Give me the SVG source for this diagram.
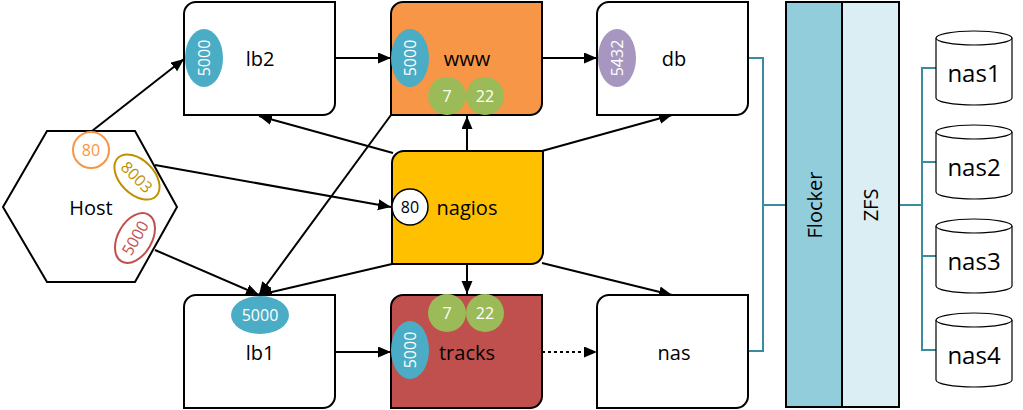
<svg xmlns="http://www.w3.org/2000/svg" xmlns:xlink="http://www.w3.org/1999/xlink" width="1023" height="410" viewBox="0 0 1023 410">
<style>
.node{stroke:#000;stroke-width:2}
.lbl{font-family:"Open Sans","Liberation Sans",sans-serif;font-size:20px;fill:#000;text-anchor:middle;dominant-baseline:central}
.port{font-family:"Open Sans","Liberation Sans",sans-serif;font-size:16px;fill:#fff;text-anchor:middle;dominant-baseline:central}
.blue{fill:#4BACC6}
.green{fill:#9BBB59}
.edge{stroke:#000;stroke-width:2;fill:none;marker-end:url(#arr)}
.teal{stroke:#3A8C9E;stroke-width:2;fill:none}
.cyl{fill:#fff;stroke:#000;stroke-width:1.2}
.big{font-family:"Open Sans","Liberation Sans",sans-serif;font-size:24px;fill:#000;text-anchor:middle;dominant-baseline:central}
</style>
<defs>
<marker id="arr" markerUnits="userSpaceOnUse" markerWidth="14" markerHeight="12" refX="13" refY="5.5" orient="auto">
<path d="M0,0 L13,5.5 L0,11 Z" fill="#000"/>
</marker>
<path id="box" d="M0,12 A12,12 0 0 1 12,0 H151 V101 A12,12 0 0 1 139,113 H0 Z"/>
<g id="cyl">
<path class="cyl" d="M0,7 V67 A38,7 0 0 0 76,67 V7"/>
<ellipse class="cyl" cx="38" cy="7" rx="38" ry="7"/>
</g>
</defs>
<rect width="1023" height="410" fill="#fff"/>

<g id="connectors">
<path class="edge" d="M92,131 L184,59"/>
<path class="edge" d="M335,58 L391,58"/>
<path class="edge" d="M542,58 L597,58"/>
<path class="edge" d="M467,151 L467,116"/>
<path class="edge" d="M467,263 L467,294"/>
<path class="edge" d="M393,153 L259,116"/>
<path class="edge" d="M542,151 L672,115"/>
<path class="edge" d="M542,263 L672,295"/>
<path class="edge" d="M392,264 L259,295"/>
<path class="edge" d="M391,115 L259,295"/>
<path class="edge" d="M155,165 L391,207"/>
<path class="edge" d="M155,250 L259,295"/>
<path class="edge" d="M335,352 L391,352"/>
<path class="edge" d="M542,352 L597,352" stroke-dasharray="3 3"/>
<path class="teal" d="M748,58 H763 V351 H748 M763,205 H786"/>
<path class="teal" d="M899,205 H922 M936,68 H922 V350 H936 M922,162 H936 M922,256 H936"/>
</g>

<g id="host">
<polygon points="3,207 47,131 135,131 177,207 135,282 47,282" fill="#fff" stroke="#000" stroke-width="2"/>
<text class="lbl" x="91" y="207">Host</text>
<circle cx="91" cy="150" r="18" fill="#fff" stroke="#F79646" stroke-width="2"/>
<text class="port" x="91" y="150" style="fill:#F79646">80</text>
<g transform="translate(137,177) rotate(45)">
<ellipse rx="27" ry="17" fill="#fff" stroke="#BF9000" stroke-width="2"/>
<text class="port" x="0" y="0" style="fill:#BF9000">8003</text>
</g>
<g transform="translate(135,238) rotate(-60)">
<ellipse rx="27" ry="17" fill="#fff" stroke="#C0504D" stroke-width="2"/>
<text class="port" x="0" y="0" style="fill:#C0504D">5000</text>
</g>
</g>

<g id="lb2">
<use xlink:href="#box" x="184" y="2" class="node" style="fill:#fff"/>
<text class="lbl" x="260" y="58">lb2</text>
<ellipse class="blue" cx="204" cy="58" rx="19" ry="29"/>
<text class="port" transform="translate(204,58) rotate(-90)">5000</text>
</g>

<g id="www">
<use xlink:href="#box" x="391" y="2" class="node" style="fill:#F79646"/>
<text class="lbl" x="467" y="58">www</text>
<ellipse class="blue" cx="410" cy="58" rx="19" ry="29"/>
<text class="port" transform="translate(410,58) rotate(-90)">5000</text>
<circle class="green" cx="447" cy="96" r="19"/>
<circle class="green" cx="485" cy="96" r="19"/>
<text class="port" x="447" y="96">7</text>
<text class="port" x="485" y="96">22</text>
</g>

<g id="db">
<use xlink:href="#box" x="597" y="2" class="node" style="fill:#fff"/>
<text class="lbl" x="674" y="58">db</text>
<ellipse cx="617" cy="58" rx="19" ry="29" fill="#A696C0"/>
<text class="port" transform="translate(617,58) rotate(-90)">5432</text>
</g>

<g id="nagios">
<use xlink:href="#box" x="392" y="151" class="node" style="fill:#FFC000"/>
<circle cx="410" cy="207" r="18" fill="#fff" stroke="#000" stroke-width="1.5"/>
<text class="port" x="410" y="207" style="fill:#000">80</text>
<text class="lbl" x="467" y="207">nagios</text>
</g>

<g id="lb1">
<use xlink:href="#box" x="184" y="295" class="node" style="fill:#fff"/>
<ellipse class="blue" cx="260" cy="315" rx="29" ry="19"/>
<text class="port" x="260" y="315">5000</text>
<text class="lbl" x="260" y="352">lb1</text>
</g>

<g id="tracks">
<use xlink:href="#box" x="391" y="295" class="node" style="fill:#C0504D"/>
<circle class="green" cx="447" cy="313" r="19"/>
<circle class="green" cx="485" cy="313" r="19"/>
<text class="port" x="447" y="313">7</text>
<text class="port" x="485" y="313">22</text>
<ellipse class="blue" cx="410" cy="350" rx="19" ry="29"/>
<text class="port" transform="translate(410,350) rotate(-90)">5000</text>
<text class="lbl" x="467" y="352">tracks</text>
</g>

<g id="nas">
<use xlink:href="#box" x="597" y="295" class="node" style="fill:#fff"/>
<text class="lbl" x="674" y="352">nas</text>
</g>

<g id="flocker">
<rect x="786" y="2" width="56" height="405" fill="#92CDDC" stroke="#000" stroke-width="2"/>
<text class="lbl" transform="translate(814,205) rotate(-90)">Flocker</text>
</g>
<g id="zfs">
<rect x="842" y="2" width="57" height="405" fill="#DAEEF3" stroke="#000" stroke-width="2"/>
<text class="lbl" transform="translate(870,205) rotate(-90)">ZFS</text>
</g>

<g id="nas1"><use xlink:href="#cyl" x="936" y="31"/><text class="big" x="974" y="72">nas1</text></g>
<g id="nas2"><use xlink:href="#cyl" x="936" y="125"/><text class="big" x="974" y="166">nas2</text></g>
<g id="nas3"><use xlink:href="#cyl" x="936" y="219"/><text class="big" x="974" y="260">nas3</text></g>
<g id="nas4"><use xlink:href="#cyl" x="936" y="313"/><text class="big" x="974" y="354">nas4</text></g>
</svg>
